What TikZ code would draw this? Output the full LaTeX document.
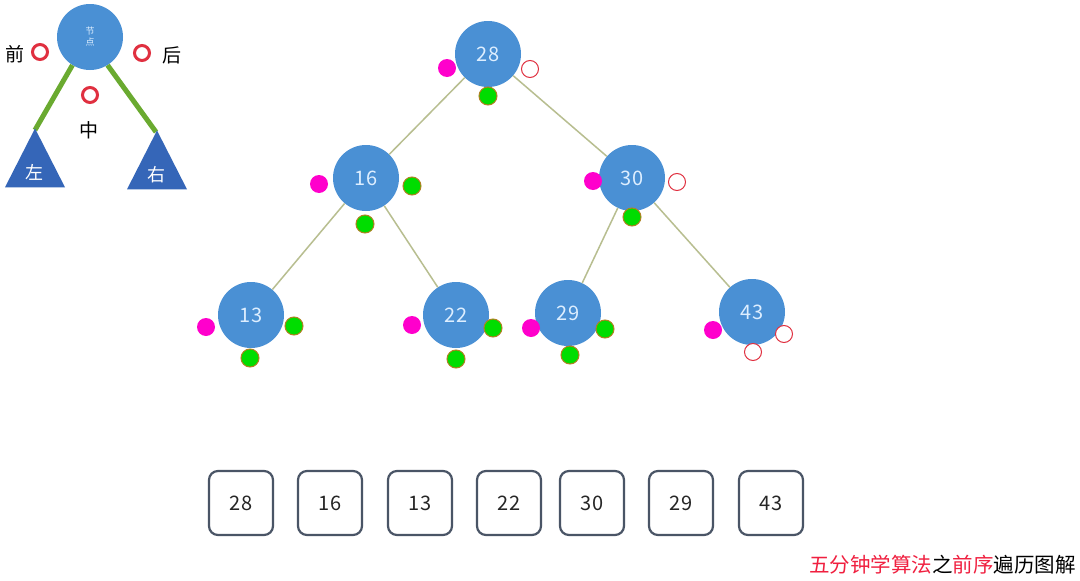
\documentclass[tikz,border=0pt]{standalone}
\usepackage{fontspec}
\setmainfont{Noto Sans CJK SC}
\usetikzlibrary{shapes.geometric}
\definecolor{nodeblue}{HTML}{4A90D4}
\definecolor{nodetext}{HTML}{DDEEFF}
\definecolor{mag}{HTML}{FF00CC}
\definecolor{grn}{HTML}{00DD00}
\definecolor{grnb}{HTML}{B08020}
\definecolor{ringred}{HTML}{E03040}
\definecolor{edgec}{HTML}{B8BE90}
\definecolor{boxc}{HTML}{4A5566}
\definecolor{legline}{HTML}{6AAA30}
\definecolor{tri}{HTML}{3566B8}
\definecolor{titred}{HTML}{F02040}
\tikzset{
  tnode/.style={circle,fill=nodeblue,minimum size=66pt,inner sep=0pt,text=nodetext,font=\fontsize{20}{20}\selectfont},
  pre/.style={circle,fill=mag,minimum size=18pt,inner sep=0pt},
  mid/.style={circle,fill=grn,draw=grnb,line width=1pt,minimum size=18pt,inner sep=0pt},
  post/.style={circle,fill=white,draw=ringred,line width=1pt,minimum size=17pt,inner sep=0pt},
  ring/.style={circle,fill=white,draw=ringred,line width=3pt,minimum size=15pt,inner sep=0pt},
  tedge/.style={draw=edgec,line width=1.5pt},
  arr/.style={draw=boxc,line width=2.2pt,rounded corners=9pt,minimum width=64pt,minimum height=64pt,font=\fontsize{20}{20}\selectfont,text=black!85},
  leg/.style={font=\fontsize{19}{19}\selectfont},
  legtri/.style={isosceles triangle,shape border rotate=90,isosceles triangle apex angle=54,fill=tri,minimum height=58pt,minimum width=60pt,inner sep=0pt,anchor=apex}
}
\begin{document}
\begin{tikzpicture}[x=1pt,y=-1pt]
\useasboundingbox (0,0) rectangle (1080,581);
\fill[white] (0,0) rectangle (1080,581);
% legend
\node[circle,fill=nodeblue,minimum size=66pt,inner sep=0pt,text=nodetext,font=\fontsize{9}{11}\selectfont,align=center] (lroot) at (90,37) {节\\点};
\coordinate (lla) at (35,130);
\coordinate (lra) at (156,132);
\draw[legline,line width=5pt] (lroot.238) -- (lla);
\draw[legline,line width=5pt] (lroot.302) -- (lra);
\node[legtri] (ltri) at (35,128) {};
\node[legtri] (rtri) at (157,130) {};
\node[text=white,font=\fontsize{18}{18}\selectfont] (ltxt) at (34,172) {左};
\node[text=white,font=\fontsize{18}{18}\selectfont] (rtxt) at (156,175) {右};
\node[ring] (lpre) at (40,52) {};
\node[ring] (lpost) at (142,53) {};
\node[ring] (lmid) at (90,95) {};
\node[leg] (tpre) at (15,54) {前};
\node[leg] (tpost) at (172,55) {后};
\node[leg] (tmid) at (89,130) {中};
% tree nodes
\node[tnode] (n28) at (488,54) {28};
\node[tnode] (n16) at (366,178) {16};
\node[tnode] (n30) at (632,178) {30};
\node[tnode] (n13) at (251,315) {13};
\node[tnode] (n22) at (456,315) {22};
\node[tnode] (n29) at (568,313) {29};
\node[tnode] (n43) at (752,312) {43};
% edges
\path[tedge] (n28) -- (n16);
\path[tedge] (n28) -- (n30);
\path[tedge] (n16) -- (n13);
\path[tedge] (n16) -- (n22);
\path[tedge] (n30) -- (n29);
\path[tedge] (n30) -- (n43);
% dots
\node[pre] (p28) at (447,68) {};
\node[mid] (m28) at (488,96) {};
\node[post] (o28) at (530,69) {};
\node[pre] (p16) at (319,184) {};
\node[mid] (m16) at (365,224) {};
\node[mid] (o16) at (412,186) {};
\node[pre] (p30) at (593,181) {};
\node[mid] (m30) at (632,217) {};
\node[post] (o30) at (677,182) {};
\node[pre] (p13) at (206,327) {};
\node[mid] (m13) at (250,358) {};
\node[mid] (o13) at (294,326) {};
\node[pre] (p22) at (412,325) {};
\node[mid] (m22) at (456,359) {};
\node[mid] (o22) at (493,328) {};
\node[pre] (p29) at (531,328) {};
\node[mid] (m29) at (570,355) {};
\node[mid] (o29) at (605,329) {};
\node[pre] (p43) at (713,330) {};
\node[post] (m43) at (753,352) {};
\node[post] (o43) at (784,334) {};
% array boxes
\node[arr] (a1) at (241,503) {28};
\node[arr] (a2) at (330,503) {16};
\node[arr] (a3) at (420,503) {13};
\node[arr] (a4) at (509,503) {22};
\node[arr] (a5) at (592,503) {30};
\node[arr] (a6) at (681,503) {29};
\node[arr] (a7) at (771,503) {43};
% title
\node[anchor=east,font=\fontsize{20.5}{20.5}\selectfont,inner sep=0pt] (title) at (1076,565) {\textcolor{titred}{五分钟学算法}之\textcolor{titred}{前序}遍历图解};
\end{tikzpicture}
\end{document}
